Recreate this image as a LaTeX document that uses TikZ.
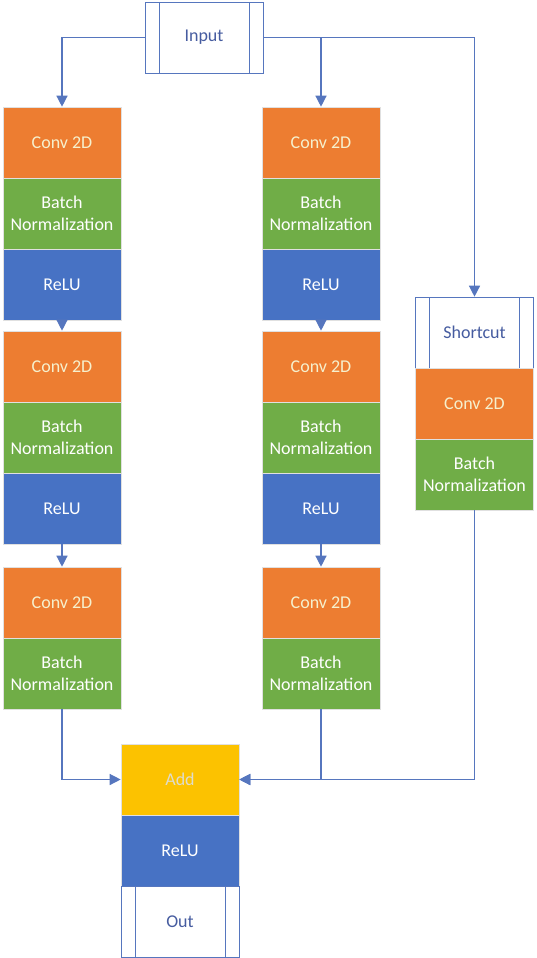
\documentclass[tikz,border=0pt]{standalone}
\usepackage{fontspec}
\setmainfont{Carlito}
\usepackage{tikz}
\usetikzlibrary{positioning}
\usetikzlibrary{arrows.meta}
\definecolor{convcol}{RGB}{237,125,49}
\definecolor{normcol}{RGB}{112,173,71}
\definecolor{relucol}{RGB}{71,114,196}
\definecolor{addcol}{RGB}{252,194,0}
\definecolor{linecol}{RGB}{86,118,190}
\definecolor{iotext}{RGB}{70,92,160}
\definecolor{convtext}{RGB}{246,240,205}
\definecolor{addtext}{RGB}{222,220,205}
\tikzstyle{layer}=[rectangle,draw=black!12,line width=0.6pt,minimum width=118pt,minimum height=71pt,inner sep=0pt,align=center,font=\fontsize{18}{22}\selectfont]
\tikzstyle{conv}=[layer,fill=convcol,text=convtext]
\tikzstyle{norm}=[layer,fill=normcol,text=white]
\tikzstyle{relu}=[layer,fill=relucol,text=white]
\tikzstyle{addbox}=[layer,fill=addcol,text=addtext]
\tikzstyle{iobox}=[layer,draw=linecol,fill=white,text=iotext,
  path picture={\draw[linecol,line width=0.7pt] ([xshift=14pt]path picture bounding box.north west) -- ([xshift=14pt]path picture bounding box.south west);
                \draw[linecol,line width=0.7pt] ([xshift=-14pt]path picture bounding box.north east) -- ([xshift=-14pt]path picture bounding box.south east);}]
\tikzstyle{link}=[draw=linecol,line width=1.3pt,-{Triangle[width=11pt,length=11pt]}]

\begin{document}
\begin{tikzpicture}[x=1pt,y=-1pt]
\useasboundingbox (0,0) rectangle (537,958);

%Input
\node[iobox] (in) at (204,37.5) {Input};

%two main branches
  \foreach \dx/\col in {62/a, 321/b}{
    \foreach \y/\name/\kind/\label in {142.5/1/conv/{Conv 2D}, 213.5/2/norm/{Batch\\Normalization}, 284.5/3/relu/{ReLU},
        366.5/4/conv/{Conv 2D}, 437.5/5/norm/{Batch\\Normalization}, 508.5/6/relu/{ReLU},
        602.5/7/conv/{Conv 2D}, 673.5/8/norm/{Batch\\Normalization}}
      \node[\kind] (\col\name) at (\dx,\y) {\label};
    \draw[link] (\col3) -- (\col4);
    \draw[link] (\col6) -- (\col7);
  }

%Shortcut
    \def\dx{474.5};
    \foreach \y/\name/\kind/\label in {332.5/sc/iobox/{Shortcut}, 403.5/sconv/conv/{Conv 2D}, 474.5/snorm/norm/{Batch\\Normalization}}
      \node[\kind] (\name) at (\dx,\y) {\label};

%Add
    \def\dx{180};
    \foreach \y/\name/\kind/\label in {779.5/add/addbox/{Add}, 850.5/arelu/relu/{ReLU}, 921.5/out/iobox/{Out}}
      \node[\kind] (\name) at (\dx,\y) {\label};

  \draw[link] (in.west) -| (a1.north);
  \draw[link] (in.east) -| (sc.north);
  \draw[link] (b1 |- in.east) -- (b1.north);
  \draw[link] (a8.south) |- (add.west);
  \draw[link] (snorm.south) |- (add.east);
  \draw[link] (b8.south) |- (add.east);

\end{tikzpicture}
\end{document}
